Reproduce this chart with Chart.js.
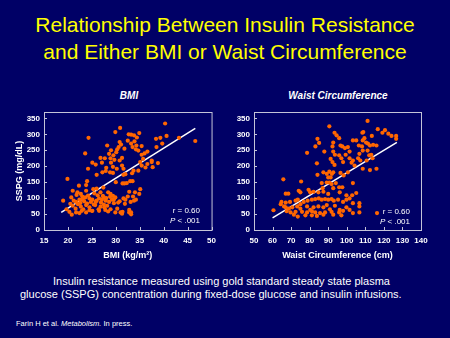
<!DOCTYPE html>
<html>
<head>
<meta charset="utf-8">
<script src="https://cdn.jsdelivr.net/npm/chart.js@4"></script>
<style>
  html, body { margin: 0; padding: 0; }
  body { width: 450px; height: 338px; background: #000066; position: relative; overflow: hidden; font-family: 'Liberation Sans', Arial, sans-serif; color: #fff; }
  .title { position: absolute; left: 0; width: 450px; top: 11px; text-align: center; color: #ffff00; font-size: 21px; line-height: 27px; }
  .sub { position: absolute; top: 90px; font-size: 10px; font-weight: bold; font-style: italic; text-align: center; }
  .stat { position: absolute; font-size: 8px; line-height: 9.5px; text-align: right; }
  .caption { position: absolute; font-size: 11px; white-space: nowrap; }
  .ref { position: absolute; left: 16px; top: 319px; font-size: 7.5px; }
  canvas { position: absolute; }
</style>
</head>
<body>
<div class="title">Relationship Between Insulin Resistance<br>and Either BMI or Waist Circumference</div>
<div class="sub" style="left:44px;width:170px">BMI</div>
<div class="sub" style="left:254px;width:168px">Waist Circumference</div>
<canvas id="bmi" width="222" height="165" style="left:0;top:100px"></canvas>
<canvas id="waist" width="216" height="165" style="left:222px;top:100px"></canvas>
<div class="stat" style="left:160px;top:206px;width:40px">r = 0.60<br><i>P</i> &lt; .001</div>
<div class="stat" style="left:370px;top:207px;width:40px">r = 0.60<br><i>P</i> &lt; .001</div>
<div class="caption" style="left:53px;top:275px">Insulin resistance measured using gold standard steady state plasma</div>
<div class="caption" style="left:20px;top:288px">glucose (SSPG) concentration during fixed-dose glucose and insulin infusions.</div>
<div class="ref">Farin H et al. <i>Metabolism.</i> In press.</div>
<script>
const sspgTicks = [0, 50, 100, 150, 200, 250, 300, 350]
const bmiTicks = [15, 20, 25, 30, 35, 40, 45, 50]
const waistTicks = [50, 60, 70, 80, 90, 100, 110, 120, 130, 140]

// [BMI, SSPG]
const bmiPoints = [
    [40.3, 334], [30.9, 320], [46.6, 279], [29.9, 307], [32.7, 300], [33.2, 299], [33.8, 297], [34.9, 304],
    [24.3, 289], [40.6, 295], [39.3, 289], [38.4, 286], [43.2, 289], [33.9, 278], [33.2, 271], [34.3, 265],
    [33.5, 260], [34.2, 253], [28.2, 265], [30.8, 276], [31.1, 268], [30.6, 260], [30.3, 253], [30.1, 244],
    [29.5, 234], [23.6, 240], [35.4, 263], [34.7, 249], [35.4, 236], [35.7, 223], [35.1, 213], [39.7, 271],
    [38.5, 260], [36.6, 246], [37.5, 218], [36.6, 207], [28.6, 239], [28.9, 225], [29.7, 220], [29.0, 211],
    [29.4, 198], [30.2, 192], [31.3, 202], [31.6, 192], [30.8, 218], [31.3, 226], [26.8, 226], [27.7, 225],
    [27.1, 211], [25.1, 211], [25.8, 205], [26.0, 173], [24.2, 192], [27.2, 181], [27.9, 185], [28.8, 181],
    [29.4, 179], [31.6, 173], [32.0, 175], [33.4, 178], [33.0, 153], [31.4, 146], [31.8, 146], [32.3, 147],
    [33.5, 153], [33.7, 186], [34.7, 186], [35.4, 202], [37.7, 197], [37.5, 213], [19.9, 160], [24.0, 153],
    [23.8, 141], [22.3, 139], [21.0, 123], [22.0, 118], [22.7, 113], [23.8, 123], [25.3, 128], [26.2, 109],
    [26.8, 118], [27.3, 107], [28.4, 118], [28.9, 113], [29.4, 107], [19.0, 92], [20.7, 102], [21.2, 92],
    [21.7, 88], [22.4, 95], [23.1, 97], [23.6, 102], [24.5, 99], [25.1, 95], [25.8, 88], [26.5, 99],
    [27.1, 95], [27.5, 102], [27.9, 92], [28.6, 88], [29.2, 95], [29.9, 102], [30.5, 86], [31.6, 99],
    [32.0, 95], [32.8, 120], [33.1, 88], [33.8, 92], [34.0, 118], [34.9, 113], [35.1, 128], [34.2, 95],
    [21.0, 76], [21.6, 67], [22.1, 81], [22.7, 73], [23.2, 65], [23.8, 78], [24.5, 71], [25.0, 60],
    [25.7, 78], [26.4, 65], [26.8, 73], [27.6, 71], [28.2, 76], [28.9, 65], [29.6, 84], [30.3, 67],
    [31.0, 55], [31.4, 57], [32.8, 63], [33.2, 55], [33.2, 49], [19.7, 65], [20.3, 57], [20.8, 48],
    [21.7, 55], [22.4, 53], [22.9, 60], [23.8, 55], [24.5, 62], [25.1, 60], [26.5, 60], [29.9, 55],
    [31.3, 51], [32.8, 55], [22.6, 85], [23.4, 90], [24.0, 83], [24.8, 88], [25.4, 80], [26.0, 92],
    [26.9, 86], [27.5, 80], [28.0, 100], [28.8, 104], [29.6, 96], [24.2, 108], [25.5, 115], [23.0, 105],
    [21.8, 110], [20.5, 82], [27.8, 63], [28.4, 58], [30.8, 90], [31.9, 82], [32.5, 105], [33.6, 105],
    [26.0, 130], [27.4, 133], [30.0, 150], [28.0, 195], [29.0, 250], [31.8, 255], [32.5, 280], [34.4, 290],
    [36.0, 240], [38.8, 210], [36.2, 196]
]

// [waist cm, SSPG]
const waistPoints = [
    [90.6, 325], [111.2, 342], [116.7, 316], [120.6, 313], [119.2, 305], [122.4, 302], [124.1, 295], [126.6, 295],
    [126.6, 286], [113.5, 295], [108.4, 305], [108.9, 307], [93.4, 305], [94.5, 297], [84.2, 286], [85.1, 273],
    [83.1, 262], [95.9, 288], [92.7, 274], [92.3, 262], [96.6, 265], [97.6, 262], [99.0, 257], [100.6, 260],
    [101.5, 246], [103.3, 281], [105.1, 281], [106.5, 265], [108.2, 262], [110.4, 274], [111.4, 271], [112.5, 265],
    [114.2, 267], [116.0, 265], [108.6, 281], [109.5, 288], [87.9, 246], [78.6, 242], [92.7, 246], [93.6, 236],
    [91.3, 223], [92.3, 213], [93.4, 204], [95.9, 234], [97.1, 225], [98.0, 213], [99.4, 236], [101.5, 225],
    [103.3, 218], [102.6, 211], [104.2, 202], [106.1, 225], [106.8, 239], [108.6, 249], [111.2, 249], [112.1, 234],
    [113.2, 236], [113.9, 225], [110.7, 218], [83.9, 209], [107.3, 218], [108.6, 192], [112.5, 188], [116.0, 192],
    [84.2, 173], [87.4, 181], [89.2, 176], [90.6, 183], [92.0, 176], [92.7, 181], [90.0, 165], [91.3, 165],
    [96.6, 179], [98.3, 171], [100.6, 181], [103.3, 147], [86.5, 147], [89.2, 149], [90.6, 149], [91.8, 144],
    [94.1, 147], [75.4, 152], [65.8, 159], [87.0, 131], [92.7, 131], [95.9, 134], [97.6, 134], [74.1, 123],
    [75.0, 118], [79.4, 126], [80.3, 118], [82.1, 120], [84.7, 118], [87.4, 120], [90.0, 113], [96.2, 118],
    [99.8, 109], [105.1, 116], [102.9, 109], [67.1, 114], [68.5, 114], [64.8, 88], [64.4, 81], [67.1, 86],
    [66.2, 74], [69.4, 88], [72.4, 92], [73.6, 95], [75.0, 81], [76.8, 88], [78.9, 92], [81.2, 95],
    [83.0, 97], [84.9, 99], [86.5, 95], [88.3, 97], [90.0, 95], [91.8, 97], [93.0, 92], [95.3, 95],
    [98.0, 88], [99.8, 95], [101.5, 99], [103.3, 84], [106.8, 84], [67.1, 71], [68.8, 67], [70.6, 71],
    [73.3, 74], [75.0, 67], [78.6, 74], [80.3, 63], [82.1, 71], [84.7, 74], [87.4, 71], [89.2, 78],
    [90.9, 65], [93.6, 76], [96.2, 63], [99.8, 71], [101.5, 63], [106.8, 74], [60.5, 62], [67.6, 59],
    [69.7, 55], [72.4, 57], [75.9, 57], [78.6, 55], [81.2, 59], [83.0, 55], [85.6, 53], [88.3, 55],
    [91.8, 57], [95.9, 55], [98.0, 60], [103.3, 53], [106.8, 55], [71.5, 48], [73.6, 42], [77.7, 46],
    [81.2, 46], [83.9, 44], [87.4, 48], [92.7, 48], [97.1, 46], [116.3, 53]
]

const bmiFit = [[18.6, 55], [46.6, 319]]
const waistFit = [[60, 38], [127, 275]]

const orange = '#ff6600'
const frameColor = '#c4c4d8'

Chart.defaults.font.family = "'Liberation Sans', Arial, sans-serif"
Chart.defaults.color = '#ffffff'

const frameTicks = {
    id: 'frameTicks',
    beforeDatasetsDraw(chart) {
        const { ctx, chartArea: a, scales: { x, y } } = chart
        ctx.save()
        ctx.strokeStyle = frameColor
        ctx.lineWidth = 1
        ctx.strokeRect(a.left + 0.5, a.top + 0.5, a.right - a.left, a.bottom - a.top)
        ctx.beginPath()
        x.ticks.forEach(t => {
            const px = Math.round(x.getPixelForValue(t.value)) + 0.5
            ctx.moveTo(px, a.bottom)
            ctx.lineTo(px, a.bottom - 3)
        })
        y.ticks.forEach(t => {
            const py = Math.round(y.getPixelForValue(t.value)) + 0.5
            ctx.moveTo(a.left, py)
            ctx.lineTo(a.left + 3, py)
        })
        ctx.stroke()
        ctx.restore()
    }
}

const toXY = pairs => pairs.map(p => ({ x: p[0], y: p[1] }))

const makeChart = (id, points, fit, xTicks, xTitle, yTitle, yWidth, padRight) => {
    const ctx = document.querySelector('#' + id).getContext('2d')
    return new Chart(ctx, {
        type: 'scatter',
        data: {
            datasets: [{
                data: toXY(points),
                backgroundColor: orange,
                borderWidth: 0,
                pointRadius: 2.1
            }, {
                type: 'line',
                data: toXY(fit),
                borderColor: '#ffffff',
                borderWidth: 1.5,
                pointRadius: 0,
                showLine: true
            }]
        },
        options: {
            responsive: false,
            animation: false,
            events: [],
            layout: { padding: { left: 0, right: padRight, top: 12, bottom: 0 } },
            plugins: { legend: { display: false }, tooltip: { enabled: false } },
            scales: {
                x: {
                    type: 'linear',
                    min: xTicks[0],
                    max: xTicks[xTicks.length - 1],
                    afterBuildTicks: s => { s.ticks = xTicks.map(v => ({ value: v })) },
                    afterFit: s => { s.height = 35 },
                    grid: { display: false, drawTicks: false },
                    border: { display: false },
                    ticks: { padding: 6, autoSkip: false, maxRotation: 0, minRotation: 0, font: { size: 8, weight: 'bold' }, color: '#ffffff' },
                    title: { display: true, text: xTitle, font: { size: 9, weight: 'bold' }, color: '#ffffff', padding: { top: 0, bottom: 4 } }
                },
                y: {
                    type: 'linear',
                    min: 0,
                    max: 370,
                    afterBuildTicks: s => { s.ticks = sspgTicks.map(v => ({ value: v })) },
                    afterFit: s => { s.width = yWidth },
                    grid: { display: false, drawTicks: false },
                    border: { display: false },
                    ticks: { padding: 4, font: { size: 8, weight: 'bold' }, color: '#ffffff' },
                    title: { display: !!yTitle, text: yTitle, font: { size: 9, weight: 'bold' }, color: '#ffffff', padding: { top: 14, bottom: 0 } }
                }
            }
        },
        plugins: [frameTicks]
    })
}

makeChart('bmi', bmiPoints, bmiFit, bmiTicks, 'BMI (kg/m²)', 'SSPG (mg/dL)', 44, 9)
makeChart('waist', waistPoints, waistFit, waistTicks, 'Waist Circumference (cm)', '', 32, 17)
</script>
</body>
</html>
